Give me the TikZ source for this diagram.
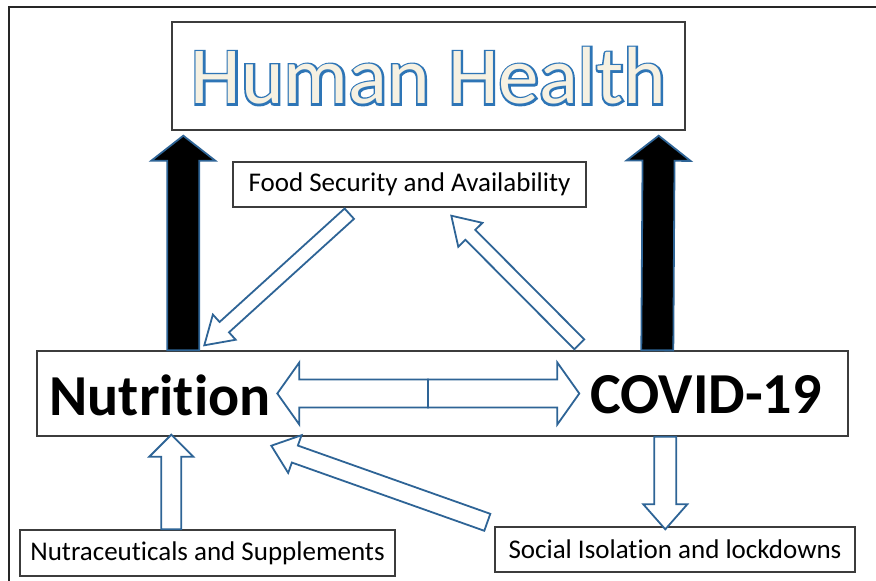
\documentclass[tikz,border=0pt]{standalone}
\usepackage{fontspec}
\setmainfont{Carlito}[Ligatures={NoCommon}]
\usetikzlibrary{calc,positioning}

\definecolor{arrblue}{RGB}{46,100,150}
\definecolor{hhblue}{RGB}{46,117,182}
\definecolor{hhcream}{RGB}{246,241,226}
\definecolor{boxgray}{RGB}{60,60,60}

% block arrow: [style]{tail}{tip}{shaft half}{head half}{head length}
\newcommand{\blockarrow}[6][]{%
	\coordinate (ba-tail) at (#2);
	\coordinate (ba-tip) at (#3);
	\coordinate (ba-head) at ($(ba-tip)!#6!(ba-tail)$);
	\draw[#1] ($(ba-tail)!#4!90:(ba-tip)$) -- ($(ba-head)!#4!90:(ba-tip)$)
		-- ($(ba-head)!#5!90:(ba-tip)$) -- (ba-tip)
		-- ($(ba-head)!#5!-90:(ba-tip)$) -- ($(ba-head)!#4!-90:(ba-tip)$)
		-- ($(ba-tail)!#4!-90:(ba-tip)$) -- cycle;}

% outlined title text
\newcommand{\outlined}[1]{{\color{hhblue}\addfontfeature{FakeBold=5}\rlap{#1}}{\color{hhcream}#1}}

\begin{document}
\begin{tikzpicture}[
		x=1pt, y=-1pt,
		box/.style={draw=boxgray, line width=1.4pt, fill=white, inner sep=0pt},
		small/.style={font=\fontsize{27}{31}\selectfont},
		big/.style={font=\fontsize{58}{64}\selectfont\bfseries, inner sep=0pt},
		hollow/.style={draw=arrblue, line width=1.8pt, fill=white, line join=miter},
		solid/.style={draw=arrblue, line width=1.8pt, fill=black, line join=miter}
	]
	\useasboundingbox (0,0) rectangle (876,581);
	\draw[line width=2.5pt, black!85] (9,581) -- (9,7) -- (876,7);

	\node[box, minimum width=513, minimum height=108] (hh) at (428.5,76)
		{\fontsize{81}{90}\selectfont\outlined{Human Health}};
	\node[box, small, minimum width=353, minimum height=45] (food) at (409.5,184.5) {Food Security and Availability};

	\node[box, minimum width=811, minimum height=85] (core) at (442.5,393.5) {};
	\node[big] (nutri) at (160,395) {Nutrition};
	\node[big] (covid) at (706,395) {COVID-19};

	\node[box, small, minimum width=375, minimum height=46] (nutra) at (207.5,553) {Nutraceuticals and Supplements};
	\node[box, small, minimum width=360, minimum height=45] (social) at (675,549.5) {Social Isolation and lockdowns};

	% into human health
	\blockarrow[solid]{$(core.north west)+(147,0)$}{$(hh.south west)+(12,5)$}{16pt}{32pt}{25pt}
	\blockarrow[solid]{$(core.north west)+(621,0)$}{$(hh.south east)+(-27,5)$}{16pt}{32pt}{25pt}

	% food security
	\blockarrow[hollow]{$(food.south west)+(117,6)$}{$(core.north west)+(168,-5)$}{7pt}{17pt}{27pt}
	\blockarrow[hollow]{$(core.north west)+(543,-6)$}{$(food.south west)+(219,8)$}{7pt}{17pt}{27pt}

	% nutrition <-> covid
	\blockarrow[hollow]{$(core.center)+(-14.5,0)$}{$(core.west)+(241,0)$}{14pt}{31pt}{22pt}
	\blockarrow[hollow]{$(core.center)+(-14.5,0)$}{$(core.west)+(543,0)$}{14pt}{31pt}{22pt}

	% lower boxes
	\blockarrow[hollow]{$(nutra.north west)+(152,0)$}{$(core.south west)+(135,-2)$}{10pt}{22pt}{22pt}
	\blockarrow[hollow]{$(social.north west)+(-7,-4)$}{$(core.south west)+(235,9)$}{9pt}{20pt}{25pt}
	\blockarrow[hollow]{$(core.south west)+(629,0)$}{$(social.north west)+(171,3)$}{11pt}{22pt}{25pt}
\end{tikzpicture}
\end{document}
